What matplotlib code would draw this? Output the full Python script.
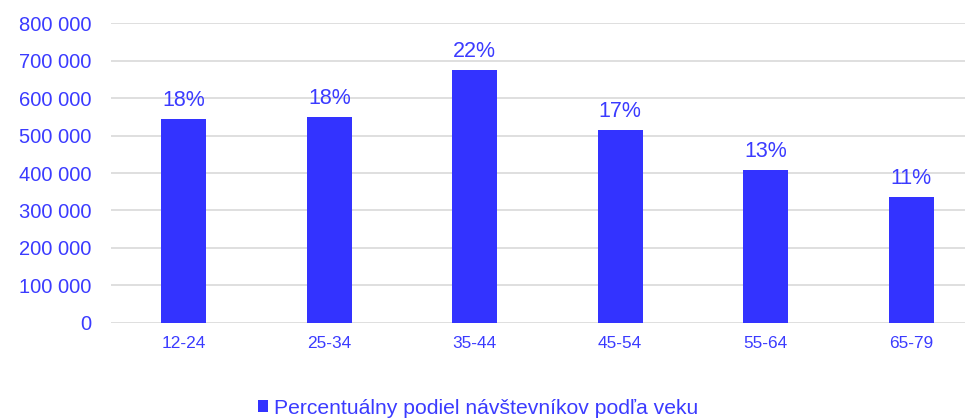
import matplotlib
matplotlib.use("Agg")
import matplotlib.pyplot as plt
from matplotlib.ticker import FuncFormatter

# datos
grupos = ["12-24", "25-34", "35-44", "45-54", "55-64", "65-79"]
visitantes = [545000, 550000, 676000, 514000, 408000, 335000]
porcentajes = ["18%", "18%", "22%", "17%", "13%", "11%"]
serie = "Percentuálny podiel návštevníkov podľa veku"

AZUL = "#3333ff"
TEXTO = "#3b3bff"
GRIS = "#d9d9d9"

plt.rcParams["font.family"] = ["Liberation Sans", "DejaVu Sans"]

fig = plt.figure(figsize=(9.65, 4.19), dpi=100)
ax = fig.add_axes([111 / 965, 1 - 322.7 / 419, 873 / 965, 299.3 / 419])

x = range(len(grupos))
barras = ax.bar(x, visitantes, width=0.31, color=AZUL, label=serie, zorder=3)

for b, p in zip(barras, porcentajes):
    ax.annotate(p, (b.get_x() + b.get_width() / 2, b.get_height()),
                xytext=(0, 9.4), textcoords="offset points",
                ha="center", va="baseline", fontsize=15.5, color=TEXTO)

ax.set_ylim(0, 800000)
ax.set_xlim(-0.5, len(grupos) - 0.5)
ax.set_yticks(range(0, 800001, 100000))
ax.yaxis.set_major_formatter(FuncFormatter(lambda v, pos: f"{int(v):,}".replace(",", " ")))
ax.set_xticks(list(x))
ax.set_xticklabels(grupos)

ax.grid(axis="y", color=GRIS, linewidth=1.2, zorder=0)
ax.set_axisbelow(True)
for s in ax.spines.values():
    s.set_visible(False)
ax.tick_params(axis="y", length=0, pad=14, labelsize=14.5, labelcolor=TEXTO)
ax.tick_params(axis="x", length=0, pad=9.5, labelsize=12.4, labelcolor=TEXTO)

fig.legend(loc="center", bbox_to_anchor=(478 / 965, 1 - 408 / 419),
           frameon=False, fontsize=15.2, labelcolor=TEXTO,
           handlelength=0.47, handleheight=0.47, handletextpad=0.28,
           borderpad=0)

fig.savefig("out.png", dpi=100)
